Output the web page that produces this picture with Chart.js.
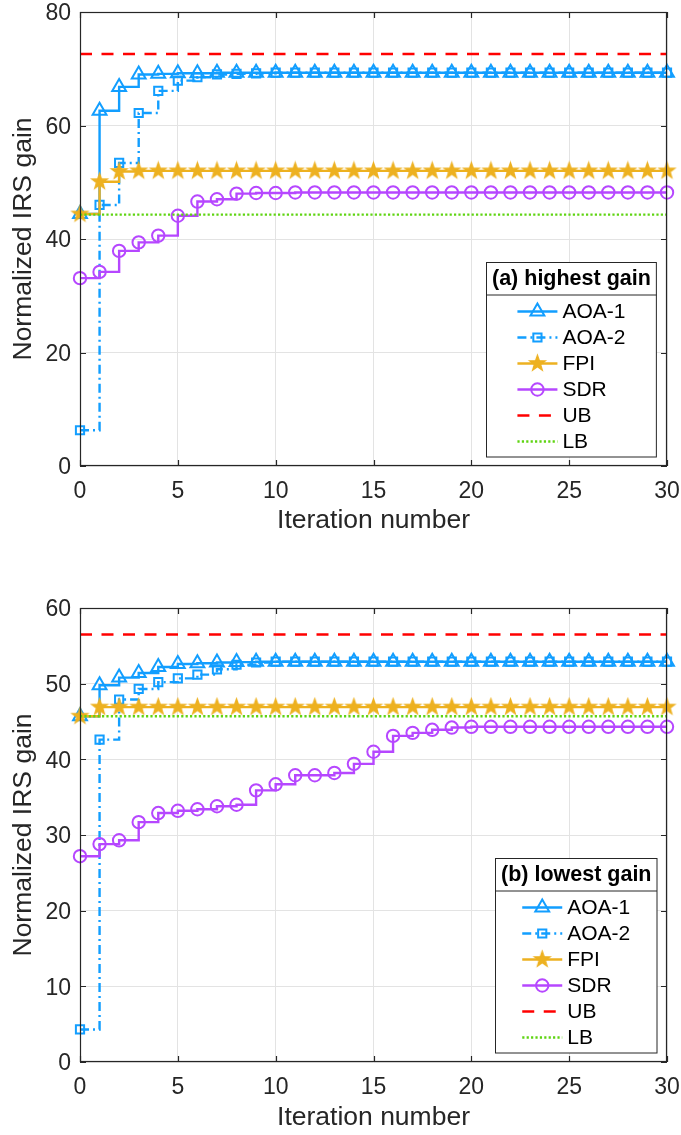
<!DOCTYPE html>
<html lang="en">
<head>
  <meta charset="UTF-8">
  <title>Normalized IRS gain vs iteration</title>
  <script src="https://cdn.jsdelivr.net/npm/chart.js"></script>
  <style>
    body { margin: 0; background: #fff; }
    .panel { position: absolute; left: 0; }
  </style>
</head>
<body>
  <canvas id="gainHigh" class="panel" style="top:0" width="681" height="567"></canvas>
  <canvas id="gainLow" class="panel" style="top:567px" width="681" height="568"></canvas>

<script>
  // iterations shared by both panels
  const iterations = [0, 1, 2, 3, 4, 5, 6, 7, 8, 9, 10, 11, 12, 13, 14, 15,
                      16, 17, 18, 19, 20, 21, 22, 23, 24, 25, 26, 27, 28, 29, 30];
  const seriesNames = ['AOA-1', 'AOA-2', 'FPI', 'SDR', 'UB', 'LB'];

  // (a) highest gain
  const aoa1High = [44.4, 62.6, 66.8, 69.0, 69.1, 69.2, 69.2, 69.3, 69.3, 69.3, 69.3, 69.3, 69.3, 69.3, 69.3, 69.3,
                    69.3, 69.3, 69.3, 69.3, 69.3, 69.3, 69.3, 69.3, 69.3, 69.3, 69.3, 69.3, 69.3, 69.3, 69.3];
  const aoa2High = [6.3, 46.0, 53.4, 62.2, 66.1, 67.9, 68.5, 69.0, 69.1, 69.2, 69.3, 69.3, 69.3, 69.3, 69.3, 69.3,
                    69.3, 69.3, 69.3, 69.3, 69.3, 69.3, 69.3, 69.3, 69.3, 69.3, 69.3, 69.3, 69.3, 69.3, 69.3];
  const fpiHigh  = [44.4, 50.1, 51.9, 52.0, 52.0, 52.0, 52.0, 52.0, 52.0, 52.0, 52.0, 52.0, 52.0, 52.0, 52.0, 52.0,
                    52.0, 52.0, 52.0, 52.0, 52.0, 52.0, 52.0, 52.0, 52.0, 52.0, 52.0, 52.0, 52.0, 52.0, 52.0];
  const sdrHigh  = [33.1, 34.2, 37.9, 39.4, 40.6, 44.1, 46.6, 47.0, 48.0, 48.1, 48.1, 48.2, 48.2, 48.2, 48.2, 48.2,
                    48.2, 48.2, 48.2, 48.2, 48.2, 48.2, 48.2, 48.2, 48.2, 48.2, 48.2, 48.2, 48.2, 48.2, 48.2];
  const ubHigh = 72.6;
  const lbHigh = 44.3;

  // (b) lowest gain
  const aoa1Low = [45.7, 49.8, 50.8, 51.4, 52.2, 52.6, 52.7, 52.8, 52.85, 52.9, 52.9, 52.9, 52.9, 52.9, 52.9, 52.9,
                   52.9, 52.9, 52.9, 52.9, 52.9, 52.9, 52.9, 52.9, 52.9, 52.9, 52.9, 52.9, 52.9, 52.9, 52.9];
  const aoa2Low = [4.3, 42.6, 47.9, 49.3, 50.2, 50.7, 51.2, 51.9, 52.5, 52.8, 52.9, 52.9, 52.9, 52.9, 52.9, 52.9,
                   52.9, 52.9, 52.9, 52.9, 52.9, 52.9, 52.9, 52.9, 52.9, 52.9, 52.9, 52.9, 52.9, 52.9, 52.9];
  const fpiLow  = [45.7, 46.9, 46.9, 46.9, 46.9, 46.9, 46.9, 46.9, 46.9, 46.9, 46.9, 46.9, 46.9, 46.9, 46.9, 46.9,
                   46.9, 46.9, 46.9, 46.9, 46.9, 46.9, 46.9, 46.9, 46.9, 46.9, 46.9, 46.9, 46.9, 46.9, 46.9];
  const sdrLow  = [27.2, 28.8, 29.3, 31.7, 32.9, 33.2, 33.4, 33.8, 34.0, 35.9, 36.7, 37.9, 37.9, 38.2, 39.4, 41.0,
                   43.1, 43.5, 43.9, 44.2, 44.3, 44.3, 44.3, 44.3, 44.3, 44.3, 44.3, 44.3, 44.3, 44.3, 44.3];
  const ubLow = 56.5;
  const lbLow = 45.7;

  const FONT = '"Liberation Sans", Arial, sans-serif';
  const AXIS = '#262626';
  const colors = { aoa: '#129EFF', fpi: '#EDB120', sdr: '#B647FF', ub: '#FF0000', lb: '#5FD412' };

  // filled five-point star marker (matlab 'p')
  function makeStar(r, color) {
    const c = document.createElement('canvas');
    const s = Math.ceil(2 * r + 4);
    c.width = s; c.height = s;
    const g = c.getContext('2d');
    g.translate(s / 2, s / 2);
    g.beginPath();
    for (let i = 0; i < 10; i++) {
      const rr = i % 2 ? r * 0.4 : r;
      const a = -Math.PI / 2 + i * Math.PI / 5;
      g.lineTo(rr * Math.cos(a), rr * Math.sin(a));
    }
    g.closePath();
    g.fillStyle = color;
    g.fill();
    g.strokeStyle = color;
    g.lineWidth = 1.2;
    g.stroke();
    return c;
  }
  const starMark = makeStar(8.3, colors.fpi);

  function pts(vals) {
    return iterations.map((x, i) => ({ x: x, y: vals[i] }));
  }
  function flat(v) {
    return [{ x: iterations[0], y: v }, { x: iterations[iterations.length - 1], y: v }];
  }

  function buildDatasets(aoa1, aoa2, fpi, sdr, ub, lb) {
    const common = { fill: false, clip: false, borderWidth: 2.4, pointBorderWidth: 2,
                     pointBackgroundColor: 'rgba(0,0,0,0)' };
    return [
      { ...common, label: seriesNames[0], data: pts(aoa1), stepped: true, borderColor: colors.aoa,
        pointBorderColor: colors.aoa, pointStyle: 'triangle', pointRadius: 8, order: 6 },
      { ...common, label: seriesNames[1], data: pts(aoa2), stepped: true, borderColor: colors.aoa,
        borderDash: [9, 4, 2, 4], pointBorderColor: colors.aoa, pointStyle: 'rect', pointRadius: 5.8, order: 5 },
      { ...common, label: seriesNames[2], data: pts(fpi), stepped: true, borderColor: colors.fpi,
        pointBorderColor: colors.fpi, pointStyle: starMark, pointRadius: 8, order: 4 },
      { ...common, label: seriesNames[3], data: pts(sdr), stepped: true, borderColor: colors.sdr,
        pointBorderColor: colors.sdr, pointStyle: 'circle', pointRadius: 6.2, order: 3 },
      { ...common, label: seriesNames[4], data: flat(ub), borderColor: colors.ub,
        borderDash: [12, 9.5], pointRadius: 0, order: 2 },
      { ...common, label: seriesNames[5], data: flat(lb), borderColor: colors.lb,
        borderDash: [2.2, 2.2], pointRadius: 0, order: 1 }
    ];
  }

  // box around the axes with inward ticks on every side
  const framePlugin = {
    id: 'frame',
    afterDatasetsDraw(chart) {
      const { ctx, chartArea: a, scales } = chart;
      ctx.save();
      ctx.strokeStyle = AXIS;
      ctx.lineWidth = 1.2;
      ctx.setLineDash([]);
      ctx.strokeRect(a.left + 0.5, a.top + 0.5, a.right - a.left - 1, a.bottom - a.top - 1);
      const t = 6;
      ctx.beginPath();
      scales.x.ticks.forEach(tk => {
        const px = Math.round(scales.x.getPixelForValue(tk.value)) + 0.5;
        ctx.moveTo(px, a.bottom); ctx.lineTo(px, a.bottom - t);
        ctx.moveTo(px, a.top); ctx.lineTo(px, a.top + t);
      });
      scales.y.ticks.forEach(tk => {
        const py = Math.round(scales.y.getPixelForValue(tk.value)) + 0.5;
        ctx.moveTo(a.left, py); ctx.lineTo(a.left + t, py);
        ctx.moveTo(a.right, py); ctx.lineTo(a.right - t, py);
      });
      ctx.stroke();
      ctx.restore();
    }
  };

  // matlab style legend with a title row, bottom right inside the axes
  const boxLegendPlugin = {
    id: 'boxLegend',
    afterDraw(chart, args, opts) {
      const { ctx, chartArea: a } = chart;
      const sets = chart.data.datasets;
      const titleFont = 'bold 21.5px ' + FONT;
      const itemFont = '21px ' + FONT;
      ctx.save();
      ctx.font = titleFont;
      const titleW = ctx.measureText(opts.title).width;
      ctx.font = itemFont;
      const textW = Math.max(...sets.map(d => ctx.measureText(d.label).width));
      const w = Math.max(titleW + 11, 40 + 5 + textW + 20);
      const h = 194.5;
      const x0 = Math.round(a.right - 11 - w) + 0.5;
      const y0 = Math.round(a.bottom - 10 - h) + 0.5;

      ctx.fillStyle = '#fff';
      ctx.fillRect(x0, y0, w, h);
      ctx.strokeStyle = AXIS;
      ctx.lineWidth = 1;
      ctx.strokeRect(x0, y0, w, h);
      ctx.beginPath();
      ctx.moveTo(x0, y0 + 32.5); ctx.lineTo(x0 + w, y0 + 32.5);
      ctx.stroke();

      ctx.fillStyle = '#000';
      ctx.textBaseline = 'middle';
      ctx.textAlign = 'center';
      ctx.font = titleFont;
      ctx.fillText(opts.title, x0 + w / 2, y0 + 17);

      const sx = x0 + (w - (45 + textW)) / 2;
      sets.forEach((d, i) => {
        const y = y0 + 49 + i * 26;
        ctx.save();
        ctx.strokeStyle = d.borderColor;
        ctx.lineWidth = d.borderWidth;
        ctx.setLineDash(d.borderDash || []);
        ctx.beginPath();
        ctx.moveTo(sx, y); ctx.lineTo(sx + 40, y);
        ctx.stroke();
        if (d.pointRadius > 0) {
          ctx.setLineDash([]);
          ctx.strokeStyle = d.pointBorderColor;
          ctx.fillStyle = d.pointBackgroundColor;
          ctx.lineWidth = d.pointBorderWidth;
          Chart.helpers.drawPoint(ctx, { pointStyle: d.pointStyle, radius: d.pointRadius,
                                         rotation: 0, borderWidth: d.pointBorderWidth }, sx + 20, y);
        }
        ctx.restore();
        ctx.fillStyle = '#000';
        ctx.textAlign = 'left';
        ctx.font = itemFont;
        ctx.fillText(d.label, sx + 45, y + 1);
      });
      ctx.restore();
    }
  };

  function makeChart(id, datasets, yMax, yStep, padTop, xAxisH, xTitlePad, legendTitle) {
    new Chart(document.getElementById(id), {
      type: 'line',
      data: { datasets },
      plugins: [framePlugin, boxLegendPlugin],
      options: {
        responsive: false,
        animation: false,
        events: [],
        layout: { padding: { top: padTop, right: 14, left: 0, bottom: 0 } },
        plugins: {
          legend: { display: false },
          tooltip: { enabled: false },
          boxLegend: { title: legendTitle }
        },
        scales: {
          x: {
            type: 'linear', min: 0, max: 30,
            afterFit: s => { s.height = xAxisH; s.paddingLeft = 0; s.paddingRight = 0; },
            ticks: { stepSize: 5, padding: 12, color: AXIS, font: { family: FONT, size: 23 } },
            grid: { color: '#e3e3e3', drawTicks: false },
            border: { display: false },
            title: { display: true, text: 'Iteration number', color: AXIS,
                     font: { family: FONT, size: 26.5 }, padding: { top: 0, bottom: xTitlePad } }
          },
          y: {
            min: 0, max: yMax,
            afterFit: s => { s.width = 80; s.paddingTop = 0; s.paddingBottom = 0; },
            ticks: { stepSize: yStep, padding: 9, labelOffset: 2, color: AXIS, font: { family: FONT, size: 23 } },
            grid: { color: '#e3e3e3', drawTicks: false },
            border: { display: false },
            title: { display: true, text: 'Normalized IRS gain', color: AXIS,
                     font: { family: FONT, size: 26.5 }, padding: { top: 8, bottom: 0 } }
          }
        }
      }
    });
  }

  makeChart('gainHigh', buildDatasets(aoa1High, aoa2High, fpiHigh, sdrHigh, ubHigh, lbHigh),
            80, 20, 12, 101, 30, '(a) highest gain');
  makeChart('gainLow', buildDatasets(aoa1Low, aoa2Low, fpiLow, sdrLow, ubLow, lbLow),
            60, 10, 41, 73, 1, '(b) lowest gain');
</script>
</body>
</html>
